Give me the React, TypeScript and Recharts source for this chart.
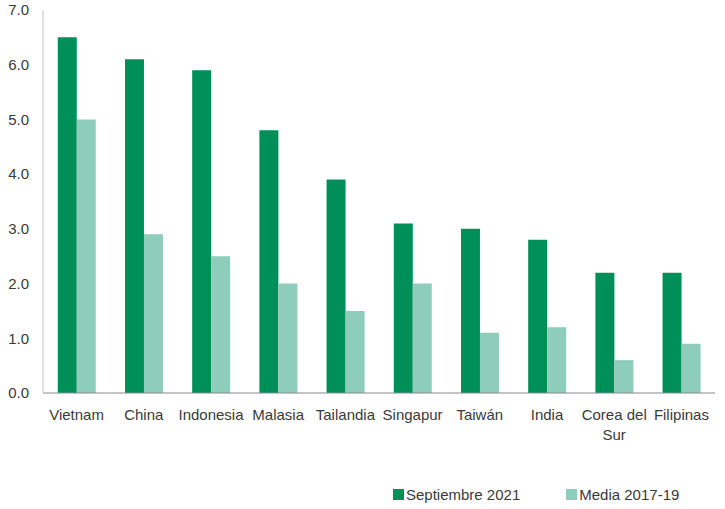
import { Bar, BarChart, Legend, Text, XAxis, YAxis } from "recharts";

const countries = [
  "Vietnam",
  "China",
  "Indonesia",
  "Malasia",
  "Tailandia",
  "Singapur",
  "Taiwán",
  "India",
  "Corea del Sur",
  "Filipinas",
];
const septiembre2021 = [6.5, 6.1, 5.9, 4.8, 3.9, 3.1, 3.0, 2.8, 2.2, 2.2];
const media2017_19 = [5.0, 2.9, 2.5, 2.0, 1.5, 2.0, 1.1, 1.2, 0.6, 0.9];
const yTicks = [0, 1, 2, 3, 4, 5, 6, 7];

const DARK = "#008F58";
const LIGHT = "#8DCDB9";
const FONT = "'Liberation Sans', Arial, sans-serif";
const TEXT = "#3a3a3a";

const data = countries.map((name, i) => ({
  name,
  sep: septiembre2021[i],
  media: media2017_19[i],
}));

function CountryTick(props: any) {
  const { x, y, payload } = props;
  return (
    <Text
      x={x}
      y={y}
      width={70}
      textAnchor="middle"
      verticalAnchor="start"
      lineHeight={20}
      fontSize={15}
      fontFamily={FONT}
      fill={TEXT}
    >
      {payload.value}
    </Text>
  );
}

function LegendBox() {
  const items = [
    { label: "Septiembre 2021", color: DARK },
    { label: "Media 2017-19", color: LIGHT },
  ];
  return (
    <div
      style={{
        display: "flex",
        fontFamily: FONT,
        fontSize: 15,
        color: TEXT,
        paddingLeft: 393,
        whiteSpace: "nowrap",
      }}
    >
      {items.map((it) => (
        <div key={it.label} style={{ display: "flex", alignItems: "center", marginRight: 46 }}>
          <span style={{ display: "inline-block", width: 11, height: 11, background: it.color, marginRight: 2 }} />
          <span>{it.label}</span>
        </div>
      ))}
    </div>
  );
}

export default function App() {
  return (
    <div style={{ position: "absolute", left: 0, top: 0, width: 725, height: 509, background: "#fff" }}>
      <BarChart
        width={725}
        height={509}
        data={data}
        margin={{ top: 10, right: 10, bottom: 86, left: 0 }}
        barCategoryGap="22%"
        barGap={0}
      >
        <XAxis
          dataKey="name"
          interval={0}
          tickLine={false}
          tickSize={0}
          tickMargin={16}
          axisLine={{ stroke: "#8a8a8a" }}
          tick={<CountryTick />}
          height={30}
        />
        <YAxis
          domain={[0, 7]}
          ticks={yTicks}
          width={43}
          tickLine={false}
          tickSize={0}
          tickMargin={14}
          axisLine={{ stroke: "#c4c4c4" }}
          tickFormatter={(v) => Number(v).toFixed(1)}
          tick={{ fontSize: 15, fontFamily: FONT, fill: TEXT }}
        />
        <Legend
          layout="horizontal"
          verticalAlign="middle"
          align="center"
          content={<LegendBox />}
          wrapperStyle={{ top: 486, left: 0, width: 725 }}
        />
        <Bar dataKey="sep" name="Septiembre 2021" fill={DARK} isAnimationActive={false} />
        <Bar dataKey="media" name="Media 2017-19" fill={LIGHT} isAnimationActive={false} />
      </BarChart>
    </div>
  );
}
